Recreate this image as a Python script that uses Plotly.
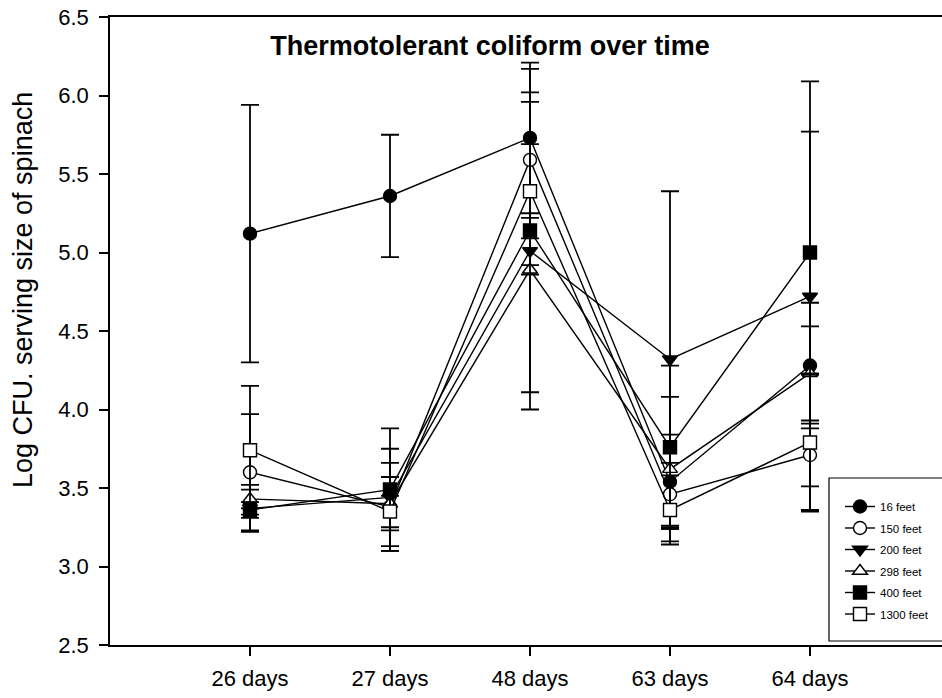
import plotly.graph_objects as go

days = ["26 days", "27 days", "48 days", "63 days", "64 days"]

series_names = ["16 feet", "150 feet", "200 feet", "298 feet", "400 feet", "1300 feet"]
ft16 = [5.12, 5.36, 5.73, 3.54, 4.28]
ft150 = [3.60, 3.38, 5.59, 3.46, 3.71]
ft200 = [3.37, 3.44, 5.01, 4.32, 4.72]
ft298 = [3.43, 3.40, 4.89, 3.62, 4.23]
ft400 = [3.36, 3.49, 5.14, 3.76, 5.00]
ft1300 = [3.74, 3.35, 5.39, 3.36, 3.79]

err16 = [0.82, 0.39, 0.48, 0.30, 0.40]
err150 = [0.37, 0.28, 0.37, 0.20, 0.20]
err200 = [0.15, 0.31, 1.01, 1.07, 1.37]
err298 = [0.06, 0.17, 0.03, 0.46, 0.30]
err400 = [0.05, 0.39, 1.03, 0.52, 0.77]
err1300 = [0.41, 0.10, 0.30, 0.22, 0.43]

values = [ft16, ft150, ft200, ft298, ft400, ft1300]
errors = [err16, err150, err200, err298, err400, err1300]
symbols = ["circle", "circle", "triangle-down", "triangle-up", "square", "square"]
fills = ["black", "white", "black", "white", "black", "white"]

FONT = "Arial, 'Liberation Sans', sans-serif"

# layout geometry (pixels)
W, H = 942, 698
L, T, B = 110, 17, 53
PW, PH = W - L, H - T - B

def px_x(p):
    return (p - L) / PW

def px_y(p):
    return (H - B - p) / PH

fig = go.Figure()
for name, v, e, s, f in zip(series_names, values, errors, symbols, fills):
    fig.add_trace(go.Scatter(
        x=days, y=v, name=name, legendgroup=name, mode="lines+markers",
        line=dict(color="black", width=1.4),
        marker=dict(symbol=s, size=13, color=f, line=dict(color="black", width=1.4)),
        error_y=dict(type="data", array=e, visible=True, color="black",
                     thickness=1.8, width=9),
    ))

fig.update_layout(
    width=W, height=H,
    margin=dict(l=L, r=0, t=T, b=B),
    paper_bgcolor="white", plot_bgcolor="white",
    font=dict(family=FONT, color="black", size=22),
    title=dict(text="<b>Thermotolerant coliform over time</b>",
               font=dict(size=27, family=FONT, color="black"),
               x=490 / W, xanchor="center", y=1 - 46 / H, yanchor="middle"),
    showlegend=True,
    legend=dict(x=px_x(840), xanchor="left", y=px_y(492), yanchor="top",
                bgcolor="rgba(0,0,0,0)", borderwidth=0,
                font=dict(size=11.5, family=FONT, color="black"),
                tracegroupgap=2.5, itemwidth=30),
    shapes=[dict(type="rect", xref="paper", yref="paper",
                 x0=px_x(829), x1=px_x(960), y0=px_y(641), y1=px_y(478),
                 line=dict(color="black", width=1.2), fillcolor="white", layer="below")],
    annotations=[dict(text="Log CFU. serving size of spinach", xref="paper", yref="paper",
                      x=px_x(23), y=px_y(290), xanchor="center", yanchor="middle",
                      textangle=-90, showarrow=False,
                      font=dict(size=27, family=FONT, color="black"))],
)

fig.update_xaxes(
    type="category", range=[-1.0, 4.943],
    showline=True, linecolor="black", linewidth=1.5, mirror=True,
    ticks="outside", ticklen=9, tickwidth=1.5, tickcolor="black",
    showgrid=False, zeroline=False, automargin=False, ticklabelstandoff=4,
    tickfont=dict(size=22, family=FONT, color="black"),
)
fig.update_yaxes(
    range=[2.5, 6.5], dtick=0.5, tick0=2.5, tickformat=".1f",
    showline=True, linecolor="black", linewidth=1.5,
    ticks="outside", ticklen=9, tickwidth=1.5, tickcolor="black",
    showgrid=False, zeroline=False, automargin=False, ticklabelstandoff=6,
    tickfont=dict(size=22, family=FONT, color="black"),
)

fig.write_html("out.html", post_script="document.body.style.margin='0';",
               config={"displayModeBar": False})
